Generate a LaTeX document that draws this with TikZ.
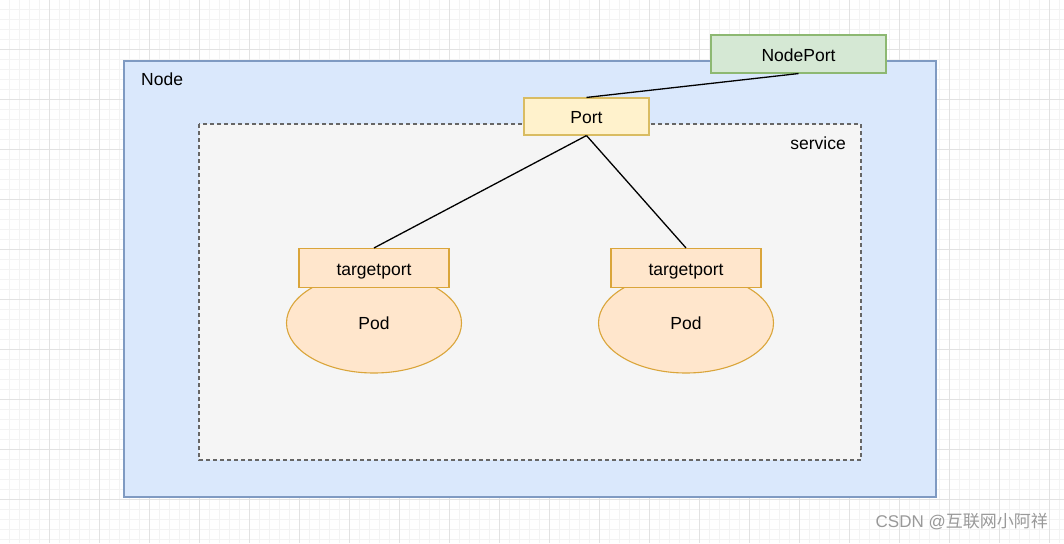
\documentclass[tikz,border=0pt]{standalone}
\usepackage{fontspec}
\setmainfont{Liberation Sans}
\newfontfamily\cjk{Noto Sans CJK SC}
\usetikzlibrary{shapes.geometric}
\definecolor{nodefill}{HTML}{DAE8FC}
\definecolor{nodedraw}{HTML}{7F9AC2}
\definecolor{svcfill}{HTML}{F5F5F5}
\definecolor{svcdraw}{HTML}{666666}
\definecolor{npfill}{HTML}{D5E8D4}
\definecolor{npdraw}{HTML}{8DB872}
\definecolor{portfill}{HTML}{FFF2CC}
\definecolor{portdraw}{HTML}{D9BC62}
\definecolor{podfill}{HTML}{FFE6CC}
\definecolor{poddraw}{HTML}{DAA53A}
\definecolor{gridminor}{HTML}{F3F3F3}
\definecolor{gridmajor}{HTML}{E2E2E2}
\tikzset{
  box/.style={draw, line width=1.1pt, rectangle, inner sep=0pt, text height=14pt, text depth=0pt, font=\fontsize{17.5}{21}\selectfont},
  npbox/.style={box, fill=npfill, draw=npdraw, minimum width=175pt, minimum height=38pt},
  portbox/.style={box, fill=portfill, draw=portdraw, minimum width=125pt, minimum height=37pt},
  tpbox/.style={box, fill=podfill, draw=poddraw, minimum width=150pt, minimum height=39pt},
  podshape/.style={ellipse, draw=poddraw, fill=podfill, line width=1.1pt, minimum width=175pt, minimum height=100pt, inner sep=0pt, font=\fontsize{17.5}{21}\selectfont},
  conn/.style={draw=black, line width=1.3pt},
  lbl/.style={font=\fontsize{17.5}{21}\selectfont, inner sep=0pt}
}
\begin{document}
\begin{tikzpicture}[x=1pt,y=-1pt]
\useasboundingbox (0,0) rectangle (1064,543);
\fill[white] (0,0) rectangle (1064,543);
% grid
\foreach \i in {9,19,...,1059} \draw[gridminor, line width=0.8pt] (\i,0) -- (\i,543);
\foreach \j in {9,19,...,539} \draw[gridminor, line width=0.8pt] (0,\j) -- (1064,\j);
\foreach \i in {49,99,...,1049} \draw[gridmajor, line width=0.8pt] (\i,0) -- (\i,543);
\foreach \j in {49,99,...,499} \draw[gridmajor, line width=0.8pt] (0,\j) -- (1064,\j);
% Node container
\draw[fill=nodefill, draw=nodedraw, line width=1.1pt] (124,61) rectangle (936,497);
\node[lbl, anchor=west] (nodelbl) at (141,79) {Node};
% service container
\draw[fill=svcfill, draw=svcdraw, line width=1.1pt, dash pattern=on 4pt off 3pt] (199,124) rectangle (861,460);
\node[lbl, anchor=east] (svclbl) at (846,143) {service};
% boxes
\node[npbox] (np) at (798.5,54) {NodePort};
\node[portbox] (port) at (586.5,116.5) {Port};
\node[podshape] (pod1) at (374,323) {Pod};
\node[podshape] (pod2) at (686,323) {Pod};
\node[tpbox] (tp1) at (374,268) {targetport};
\node[tpbox] (tp2) at (686,268) {targetport};
% connectors
\draw[conn] (np.south) -- (port.north);
\draw[conn] (port.south) -- (tp1.north);
\draw[conn] (port.south) -- (tp2.north);
% watermark
\node[font=\fontsize{17}{20}\selectfont, text=gray!80, anchor=east, inner sep=0pt] (wm) at (1048,522) {CSDN @{\cjk 互联网小阿祥}};
\end{tikzpicture}
\end{document}
